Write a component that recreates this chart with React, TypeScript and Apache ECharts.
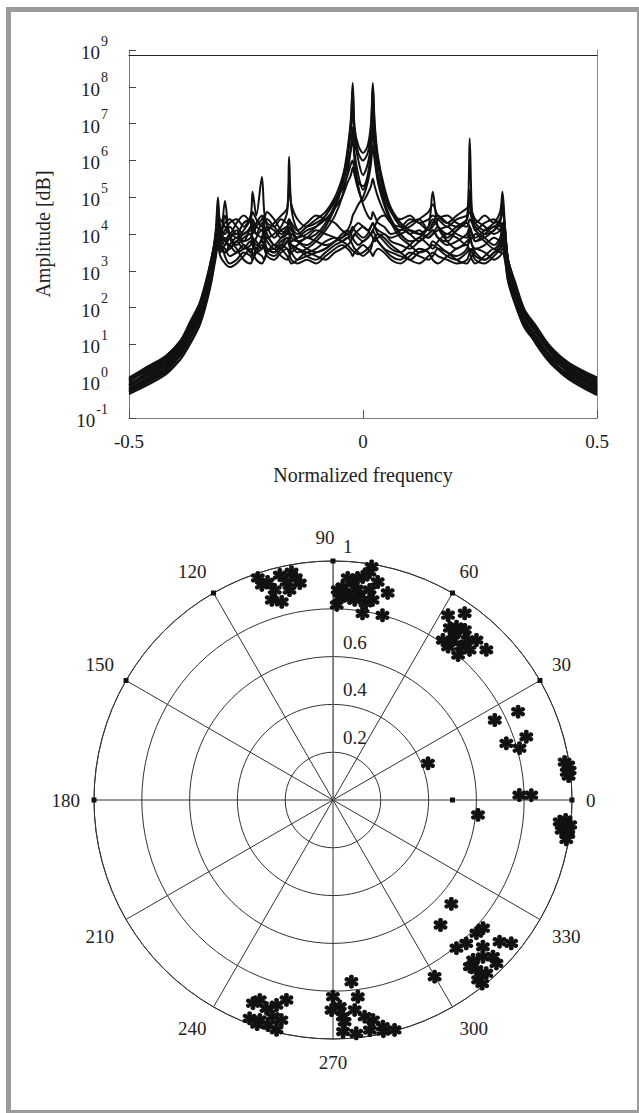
import React, { useEffect, useRef } from 'react';
import * as echarts from 'echarts';

// Normalized frequency grid shared by every spectrum
const freq = [
  -0.5, -0.46, -0.42, -0.39, -0.37, -0.35, -0.335, -0.322,
  -0.314, -0.31, -0.305, -0.295,
  -0.285, -0.27, -0.255, -0.24, -0.236, -0.228, -0.216, -0.211, -0.205,
  -0.19, -0.175, -0.162, -0.158, -0.153, -0.14, -0.12,
  -0.1, -0.08, -0.06, -0.045, -0.033, -0.026,
  -0.022, -0.018, -0.01, 0, 0.01, 0.017, 0.021,
  0.025, 0.032, 0.045, 0.06, 0.08, 0.1, 0.12, 0.14,
  0.149, 0.16, 0.18, 0.2, 0.222, 0.228, 0.233, 0.24, 0.26, 0.28,
  0.293, 0.298, 0.303, 0.31, 0.325, 0.345, 0.37, 0.4, 0.44, 0.5,
];

// Amplitudes as log10 values (exponent of the 10^n axis)
const spec01 = [
  -0.05, 0.2, 0.5, 0.9, 1.35, 1.85, 2.45, 3.2,
  3.9, 4.6, 4.0, 3.7,
  3.9, 4.1, 3.8, 4.2, 4.3, 4.0, 4.3, 4.1, 3.9,
  4.0, 4.2, 4.6, 6.1, 4.7, 4.1, 3.9,
  4.0, 4.3, 4.8, 5.4, 6.3, 7.1,
  8.1, 6.9, 6.4, 6.2, 6.4, 7.0, 8.1,
  7.0, 6.1, 5.3, 4.7, 4.3, 4.0, 4.1, 3.9,
  4.0, 4.2, 3.9, 4.1, 4.3, 4.2, 4.0, 3.8, 4.0, 4.2,
  4.1, 4.0, 3.8, 3.2, 2.5, 1.8, 1.3, 0.8, 0.35, -0.05,
];
const spec02 = [
  -0.2, 0.05, 0.35, 0.75, 1.2, 1.7, 2.3, 3.0,
  3.6, 3.9, 3.8, 4.5,
  4.0, 3.7, 3.9, 4.0, 3.8, 3.6, 3.9, 4.2, 4.0,
  3.7, 3.9, 4.1, 4.3, 4.2, 3.8, 3.7,
  3.9, 4.2, 4.7, 5.3, 6.2, 7.0,
  7.95, 6.8, 6.2, 6.0, 6.2, 6.8, 8.0,
  6.9, 6.0, 5.2, 4.6, 4.2, 4.0, 3.8, 4.0,
  4.1, 3.9, 3.8, 4.1, 4.4, 6.6, 4.5, 4.1, 3.9, 3.7,
  3.9, 4.2, 3.9, 3.0, 2.3, 1.6, 1.15, 0.6, 0.15, -0.25,
];
const spec03 = [
  0.05, 0.35, 0.65, 1.05, 1.5, 2.0, 2.6, 3.35,
  3.8, 4.1, 3.9, 4.1,
  4.3, 4.4, 4.2, 4.5, 5.15, 4.5, 5.55, 4.6, 4.3,
  4.2, 4.4, 4.3, 4.4, 4.2, 4.0, 4.2,
  4.4, 4.6, 5.0, 5.5, 6.1, 6.8,
  7.4, 6.6, 6.0, 5.6, 5.9, 6.5, 7.6,
  6.7, 5.9, 5.1, 4.6, 4.4, 4.5, 4.3, 4.4,
  4.5, 4.4, 4.2, 4.4, 4.5, 4.6, 4.4, 4.3, 4.5, 4.3,
  4.4, 4.6, 4.2, 3.3, 2.7, 1.95, 1.5, 0.95, 0.5, 0.1,
];
const spec04 = [
  -0.3, -0.05, 0.25, 0.6, 1.05, 1.5, 2.15, 2.85,
  3.4, 3.7, 3.6, 3.5,
  3.6, 3.8, 3.6, 3.7, 3.9, 3.8, 3.6, 3.8, 3.9,
  3.7, 3.6, 3.8, 3.9, 3.7, 3.5, 3.6,
  3.8, 4.1, 4.5, 5.0, 5.7, 6.3,
  6.9, 6.2, 5.6, 5.2, 5.5, 6.1, 7.0,
  6.2, 5.5, 4.9, 4.4, 4.0, 3.8, 3.9, 4.2,
  5.15, 4.2, 3.8, 3.6, 3.8, 3.9, 3.7, 3.6, 3.7, 3.9,
  3.8, 3.7, 3.5, 2.8, 2.15, 1.5, 1.05, 0.5, 0.1, -0.35,
];
const spec05 = [
  0.1, 0.4, 0.7, 1.1, 1.6, 2.1, 2.75, 3.45,
  4.0, 4.3, 4.1, 4.0,
  4.2, 4.0, 4.3, 4.4, 4.1, 4.3, 4.5, 4.2, 4.1,
  4.3, 4.5, 4.7, 5.4, 4.8, 4.4, 4.2,
  4.3, 4.5, 4.9, 5.3, 5.9, 6.3,
  6.6, 6.0, 5.3, 4.8, 4.5, 4.4, 4.6,
  4.5, 4.3, 4.2, 4.0, 4.1, 4.3, 4.4, 4.1,
  4.3, 4.5, 4.3, 4.2, 4.4, 5.2, 4.6, 4.3, 4.1, 4.2,
  4.3, 4.1, 3.9, 3.25, 2.6, 1.9, 1.45, 0.9, 0.45, 0.05,
];
const spec06 = [
  -0.25, 0.0, 0.3, 0.7, 1.15, 1.65, 2.25, 2.95,
  3.5, 3.8, 3.7, 3.6,
  3.4, 3.5, 3.7, 3.5, 3.4, 3.6, 3.8, 3.7, 3.5,
  3.4, 3.6, 3.8, 3.7, 3.5, 3.3, 3.4,
  3.5, 3.6, 3.8, 3.9, 4.1, 4.3,
  4.5, 4.6, 4.8, 5.0, 5.4, 5.9, 6.4,
  6.0, 5.4, 4.8, 4.3, 3.9, 3.7, 3.5, 3.6,
  3.8, 3.7, 3.5, 3.4, 3.6, 4.0, 3.7, 3.5, 3.3, 3.5,
  3.6, 3.8, 3.6, 2.9, 2.25, 1.55, 1.1, 0.55, 0.2, -0.2,
];
const spec07 = [
  -0.1, 0.2, 0.5, 0.9, 1.4, 1.9, 2.5, 3.25,
  4.2, 5.0, 4.2, 3.8,
  3.7, 3.5, 3.6, 3.8, 3.7, 3.5, 3.6, 3.7, 3.6,
  3.5, 3.7, 3.6, 3.5, 3.7, 3.6, 3.4,
  3.3, 3.5, 3.7, 3.8, 3.9, 3.8,
  3.7, 3.6, 3.5, 3.4, 3.5, 3.6, 3.8,
  3.9, 3.8, 3.6, 3.5, 3.4, 3.3, 3.5, 3.6,
  3.7, 3.6, 3.4, 3.3, 3.5, 3.6, 3.5, 3.3, 3.2, 3.4,
  3.6, 3.7, 3.5, 2.85, 2.2, 1.6, 1.1, 0.65, 0.25, -0.15,
];
const spec08 = [
  -0.35, -0.1, 0.2, 0.6, 1.0, 1.5, 2.1, 2.85,
  4.0, 4.8, 3.9, 3.4,
  3.2, 3.3, 3.5, 3.4, 3.3, 3.5, 3.4, 3.3, 3.5,
  3.6, 3.4, 3.3, 3.4, 3.5, 3.6, 3.5,
  3.6, 3.8, 3.9, 3.8, 3.7, 3.6,
  3.55, 3.5, 3.45, 3.5, 3.6, 3.7, 3.8,
  3.9, 4.0, 3.9, 3.7, 3.5, 3.3, 3.2, 3.4,
  3.5, 3.4, 3.3, 3.2, 3.3, 3.5, 3.6, 3.4, 3.3, 3.5,
  3.7, 3.9, 3.6, 2.9, 2.2, 1.55, 1.0, 0.5, 0.05, -0.38,
];
const spec09 = [
  0.0, 0.3, 0.6, 1.0, 1.45, 1.95, 2.6, 3.3,
  3.9, 4.3, 4.1, 4.3,
  4.4, 4.2, 4.0, 4.2, 4.4, 4.2, 4.1, 4.3, 4.4,
  4.2, 4.0, 4.2, 4.4, 4.3, 4.1, 4.3,
  4.5, 4.4, 4.3, 4.1, 4.0, 3.9,
  3.9, 4.0, 4.1, 4.2, 4.1, 4.0, 4.1,
  4.2, 4.4, 4.5, 4.3, 4.2, 4.4, 4.3, 4.1,
  4.2, 4.4, 4.5, 4.3, 4.2, 4.4, 4.3, 4.1, 4.3, 4.4,
  4.2, 4.3, 4.0, 3.2, 2.55, 1.85, 1.4, 0.85, 0.4, 0.0,
];
const spec10 = [
  -0.2, 0.1, 0.4, 0.8, 1.25, 1.75, 2.35, 3.05,
  3.7, 3.9, 3.8, 4.9,
  3.9, 3.6, 3.3, 3.2, 3.3, 3.5, 3.7, 3.6, 3.4,
  3.3, 3.5, 3.6, 3.5, 3.3, 3.2, 3.3,
  3.2, 3.4, 3.6, 3.7, 3.6, 3.5,
  3.4, 3.5, 3.6, 3.7, 3.6, 3.5, 3.4,
  3.5, 3.6, 3.5, 3.3, 3.2, 3.4, 3.6, 3.5,
  3.3, 3.2, 3.4, 3.6, 3.7, 3.5, 3.3, 3.2, 3.4, 3.6,
  3.5, 3.6, 3.4, 2.7, 2.1, 1.45, 1.05, 0.6, 0.15, -0.3,
];
const spec11 = [
  -0.15, 0.15, 0.45, 0.85, 1.3, 1.8, 2.4, 3.1,
  3.6, 3.7, 3.5, 3.7,
  3.9, 4.0, 3.8, 3.9, 4.1, 4.0, 3.9, 4.0, 4.2,
  4.1, 3.9, 4.0, 4.1, 3.9, 3.8, 3.9,
  4.1, 4.0, 3.9, 3.8, 3.9, 4.0,
  4.1, 4.2, 4.3, 4.2, 4.1, 4.2, 4.3,
  4.2, 4.1, 4.0, 3.9, 4.0, 4.1, 4.0, 3.9,
  4.0, 4.1, 4.2, 4.0, 3.9, 4.1, 4.0, 3.9, 4.1, 4.3,
  4.6, 5.15, 4.3, 3.2, 2.5, 1.8, 1.3, 0.8, 0.35, -0.1,
];
const spec12 = [
  0.05, 0.35, 0.7, 1.1, 1.55, 2.05, 2.7, 3.45,
  3.9, 4.0, 3.8, 3.9,
  3.6, 3.8, 4.0, 4.1, 3.9, 3.7, 3.8, 4.0, 3.8,
  3.6, 3.8, 3.9, 3.8, 3.6, 3.7, 3.9,
  3.8, 3.7, 3.8, 4.0, 4.1, 4.0,
  3.9, 3.8, 3.7, 3.8, 3.9, 4.0, 3.9,
  3.8, 3.9, 4.0, 3.8, 3.7, 3.6, 3.8, 4.0,
  4.1, 3.9, 3.7, 3.8, 4.0, 4.2, 4.0, 3.8, 3.9, 4.1,
  4.3, 4.9, 4.1, 3.1, 2.4, 1.7, 1.2, 0.7, 0.3, -0.1,
];
const spec13 = [
  -0.1, 0.25, 0.55, 0.95, 1.45, 1.95, 2.55, 3.3,
  3.8, 4.1, 4.4, 4.2,
  4.0, 4.3, 4.5, 4.3, 4.0, 4.2, 4.4, 4.5, 4.2,
  3.9, 4.1, 4.2, 4.0, 3.8, 3.9, 4.1,
  4.2, 4.4, 4.7, 5.0, 5.4, 5.6,
  5.8, 5.6, 5.2, 4.9, 5.1, 5.3, 5.5,
  5.3, 5.0, 4.6, 4.3, 4.1, 4.2, 4.4, 4.6,
  4.8, 4.5, 4.3, 4.5, 4.7, 4.8, 4.6, 4.4, 4.2, 4.0,
  4.1, 4.3, 4.1, 3.3, 2.6, 1.9, 1.35, 0.8, 0.3, -0.15,
];
const spec14 = [
  -0.3, 0.0, 0.3, 0.7, 1.15, 1.6, 2.2, 2.9,
  3.5, 3.7, 3.4, 3.2,
  3.1, 3.2, 3.4, 3.6, 3.5, 3.3, 3.2, 3.3, 3.5,
  3.7, 3.6, 3.4, 3.3, 3.2, 3.3, 3.5,
  3.4, 3.3, 3.5, 3.6, 3.7, 3.8,
  3.9, 4.0, 3.9, 3.8, 3.9, 4.0, 4.1,
  4.0, 3.8, 3.6, 3.4, 3.3, 3.5, 3.4, 3.3,
  3.4, 3.6, 3.5, 3.3, 3.2, 3.3, 3.4, 3.6, 3.5, 3.3,
  3.4, 3.5, 3.3, 2.75, 2.1, 1.5, 1.05, 0.55, 0.1, -0.3,
];
const spec15 = [
  0.0, 0.3, 0.6, 1.0, 1.5, 2.0, 2.6, 3.4,
  4.1, 4.4, 4.0, 3.8,
  4.0, 3.9, 4.1, 4.4, 4.6, 4.4, 4.2, 4.4, 4.6,
  4.4, 4.1, 4.0, 4.2, 4.1, 3.9, 4.0,
  4.2, 4.5, 4.9, 5.2, 5.6, 5.9,
  6.0, 5.7, 5.4, 5.3, 5.6, 6.3, 7.2,
  6.4, 5.6, 5.0, 4.6, 4.3, 4.1, 4.0, 4.2,
  4.4, 4.2, 4.0, 4.2, 4.4, 5.0, 4.4, 4.2, 4.0, 4.1,
  4.4, 4.7, 4.2, 3.3, 2.65, 1.9, 1.4, 0.9, 0.45, 0.0,
];
const spec16 = [
  -0.25, 0.05, 0.4, 0.8, 1.25, 1.75, 2.4, 3.15,
  3.6, 4.0, 3.7, 3.5,
  3.7, 3.9, 3.7, 3.5, 3.6, 3.9, 4.1, 3.9, 3.6,
  3.5, 3.7, 3.9, 3.8, 4.0, 3.8, 3.6,
  3.5, 3.6, 3.8, 3.9, 4.0, 4.1,
  4.2, 4.1, 4.0, 3.9, 4.0, 4.2, 4.3,
  4.2, 4.0, 3.8, 3.6, 3.5, 3.7, 3.9, 3.7,
  3.6, 3.8, 4.0, 3.9, 3.7, 3.8, 3.9, 4.0, 3.8, 3.6,
  3.8, 4.0, 3.8, 3.0, 2.35, 1.65, 1.2, 0.7, 0.25, -0.2,
];
const spectra = [
  spec01, spec02, spec03, spec04, spec05, spec06, spec07, spec08,
  spec09, spec10, spec11, spec12, spec13, spec14, spec15, spec16,
];

// Polar estimates: [radius, angle in degrees]
const polarPoints = [
  // ~80-90 deg cluster
  [0.966, 80.9], [0.931, 78.4], [0.896, 75.2], [0.80, 75.0], [0.79, 81.0], [0.816, 88.9],
  [0.892, 87.4], [0.912, 84.8], [0.865, 82.6], [0.853, 78.8], [0.848, 85.3], [0.941, 82.4],
  [0.892, 80.1], [0.868, 86.8], [0.879, 88.7], [0.931, 86.2], [0.888, 83.6], [0.842, 83.8],
  [0.836, 80.6], [0.846, 88.1], [0.99, 80.6], [0.935, 83.7],
  // ~100-108 deg cluster
  [0.952, 106.7], [0.967, 103.3], [0.969, 100.3], [0.918, 98.7], [0.897, 101.7], [0.912, 105.5],
  [0.948, 108.3], [0.875, 107.0], [0.856, 104.5], [0.942, 99.5], [0.933, 102.0], [0.981, 108.7],
  // ~50 deg cluster
  [0.911, 58.1], [0.956, 54.8], [0.89, 54.5], [0.9, 52.2], [0.812, 55.5], [0.837, 53.1],
  [0.837, 50.1], [0.899, 48.1], [0.898, 44.4], [0.801, 49.2], [0.849, 47.7], [0.802, 53.1],
  [0.865, 53.9], [0.875, 49.9], [0.87, 55.8],
  // 0-30 deg scattered
  [0.755, 26.3], [0.858, 25.5], [0.763, 18.1], [0.81, 15.5], [0.851, 18.1], [0.426, 21.1],
  [0.78, 1.5], [0.83, 1.4], [0.982, 9.3], [0.995, 8.4], [0.985, 6.8], [0.998, 7.1], [0.991, 5.8],
  // ~350-355 deg
  [0.61, 354.1], [0.953, 354.5], [0.977, 355.1], [0.998, 354.0], [0.991, 352.2], [0.995, 351.7],
  [0.965, 352.5], [0.99, 350.4],
  // ~310-320 deg
  [0.659, 318.7], [0.69, 310.7], [0.853, 299.9], [0.807, 309.8], [0.819, 312.9], [0.819, 317.1],
  [0.826, 319.5], [0.915, 319.6], [0.957, 321.2], [0.878, 315.6], [0.89, 311.2], [0.908, 313.7],
  [0.967, 315.0], [0.93, 310.2], [0.968, 311.5], [0.967, 308.9], [0.99, 309.1], [0.937, 315.6],
  [0.902, 309.4],
  // ~270-285 deg
  [0.764, 275.8], [0.823, 270.0], [0.83, 277.2], [0.865, 271.9], [0.883, 275.9], [0.916, 278.3],
  [0.929, 273.0], [0.936, 280.3], [0.971, 282.4], [0.996, 285.0], [0.981, 275.7], [0.97, 272.5],
  [0.99, 282.3], [0.975, 279.1], [0.879, 269.6], [0.908, 272.6],
  // ~248-257 deg
  [0.914, 248.5], [0.891, 249.9], [0.915, 252.3], [0.89, 254.6], [0.859, 256.9], [0.978, 249.1],
  [0.97, 251.6], [0.941, 254.5], [0.946, 256.8], [0.99, 251.3], [0.99, 256.2], [0.98, 253.9],
];

// Small square marks on the spokes
const squareMarks = [[1, 0], [1, 30], [1, 60], [1, 90], [1, 120], [1, 150], [1, 180], [0.5, 0]];

const SERIF = 'Liberation Serif';

function flowerPath(): string {
  const c = 14;
  const rIn = 4;
  const rCtl = 13;
  const pt = (r: number, deg: number) => {
    const a = (deg * Math.PI) / 180;
    return `${(c + r * Math.cos(a)).toFixed(2)} ${(c + r * Math.sin(a)).toFixed(2)}`;
  };
  let d = `M ${pt(rIn, -120)}`;
  for (let k = 0; k < 6; k++) {
    const th = k * 60 - 90;
    d += ` C ${pt(rCtl, th - 30)} ${pt(rCtl, th + 30)} ${pt(rIn, th + 30)}`;
  }
  return 'path://' + d + ' Z';
}

export default function App() {
  const ref = useRef<HTMLDivElement>(null);
  useEffect(() => {
    if (!ref.current) return;
    const chart = echarts.init(ref.current, undefined, { renderer: 'svg' });
    const lineSeries = spectra.map((s, i) => ({
      type: 'line',
      name: 'spectrum' + (i + 1),
      xAxisIndex: 0,
      yAxisIndex: 0,
      data: freq.map((f, j) => [f, s[j]]),
      symbol: 'none',
      smooth: 0.3,
      lineStyle: { color: '#111', width: 2 },
      silent: true,
      z: 3,
    }));
    chart.setOption({
      animation: false,
      backgroundColor: '#fff',
      grid: { left: 129, top: 50, width: 468, height: 368, show: false },
      xAxis: [
        {
          type: 'value', min: -0.5, max: 0.5, interval: 0.5,
          name: 'Normalized frequency', nameLocation: 'middle', nameGap: 47,
          nameTextStyle: { fontFamily: SERIF, fontSize: 20, color: '#222' },
          axisLine: { show: true, onZero: false, lineStyle: { color: '#777', width: 1 } },
          axisTick: { show: true, inside: true, length: 8, lineStyle: { color: '#555' } },
          axisLabel: { fontFamily: SERIF, fontSize: 19, color: '#222', margin: 14 },
          splitLine: { show: false },
        },
        {
          type: 'value', min: -0.5, max: 0.5, position: 'top', offset: -5,
          axisLine: { show: true, onZero: false, lineStyle: { color: '#222', width: 1.2 } },
          axisTick: { show: false }, axisLabel: { show: false }, splitLine: { show: false },
        },
      ],
      yAxis: [
        {
          type: 'value', min: -1, max: 9, interval: 1,
          name: 'Amplitude [dB]', nameLocation: 'middle', nameGap: 76,
          nameTextStyle: { fontFamily: SERIF, fontSize: 20, color: '#222' },
          axisLine: { show: true, onZero: false, lineStyle: { color: '#777', width: 1 } },
          axisTick: { show: true, inside: true, length: 7, lineStyle: { color: '#444' } },
          axisLabel: {
            margin: 21,
            formatter: (v: number) => `{b|10}{s|${v}}`,
            rich: {
              b: { fontFamily: SERIF, fontSize: 19, color: '#222', lineHeight: 22, padding: [5, 0, 0, 0] },
              s: { fontFamily: SERIF, fontSize: 14, color: '#222', lineHeight: 18, padding: [0, 0, 18, 1] },
            },
          },
          splitLine: { show: false },
        },
        {
          type: 'value', min: -1, max: 9, position: 'right',
          axisLine: { show: true, onZero: false, lineStyle: { color: '#888', width: 1 } },
          axisTick: { show: false }, axisLabel: { show: false }, splitLine: { show: false },
        },
      ],
      polar: [
        { center: [333, 800], radius: 239 },
        { center: [333, 800], radius: 239 },
      ],
      angleAxis: [
        {
          polarIndex: 0, type: 'value', min: 0, max: 360, interval: 30, startAngle: 0, clockwise: false,
          axisLine: { show: true, lineStyle: { color: '#333', width: 1 } },
          axisTick: { show: false },
          axisLabel: {
            fontFamily: SERIF, fontSize: 19, color: '#222', margin: 14,
            formatter: (v: number) => (v === 360 ? '' : v === 90 ? '{r|90}' : String(v)),
            rich: {
              r: { fontFamily: SERIF, fontSize: 19, color: '#222', padding: [0, 16, 0, 0] },
            },
          },
          splitLine: { show: true, lineStyle: { color: '#333', width: 1 } },
        },
        {
          polarIndex: 1, type: 'value', min: 0, max: 360, startAngle: 90, clockwise: false,
          axisLine: { show: false }, axisTick: { show: false }, axisLabel: { show: false }, splitLine: { show: false },
        },
      ],
      radiusAxis: [
        {
          polarIndex: 0, type: 'value', min: 0, max: 1, interval: 0.2,
          axisLine: { show: false }, axisTick: { show: false }, axisLabel: { show: false },
          splitLine: { show: true, lineStyle: { color: '#333', width: 1 } },
        },
        {
          polarIndex: 1, type: 'value', min: 0, max: 1, interval: 0.2,
          axisLine: { show: true, lineStyle: { color: '#777', width: 1 } },
          axisTick: { show: false },
          axisLabel: {
            fontFamily: SERIF, fontSize: 19, color: '#222', margin: -10,
            align: 'left', verticalAlign: 'bottom', padding: [0, 0, 5, 0],
            formatter: (v: number) => (v === 0 ? '' : String(v)),
          },
          splitLine: { show: false },
        },
      ],
      series: [
        ...lineSeries,
        {
          type: 'scatter', coordinateSystem: 'polar', polarIndex: 0,
          data: squareMarks, symbol: 'rect', symbolSize: 5,
          itemStyle: { color: '#111', opacity: 1 }, silent: true, z: 4,
        },
        {
          type: 'scatter', coordinateSystem: 'polar', polarIndex: 0,
          data: polarPoints, symbol: flowerPath(), symbolSize: 14,
          itemStyle: { color: '#111', opacity: 1 }, silent: true, z: 5,
        },
      ],
    });
    return () => chart.dispose();
  }, []);
  return (
    <>
      <div ref={ref} style={{ position: 'absolute', left: 0, top: 0, width: 639, height: 1113 }} />
      <div
        style={{
          position: 'absolute', left: 6, top: 7, width: 636, height: 1108,
          border: '5px solid #9b9b9b', boxSizing: 'border-box', pointerEvents: 'none',
        }}
      />
    </>
  );
}
